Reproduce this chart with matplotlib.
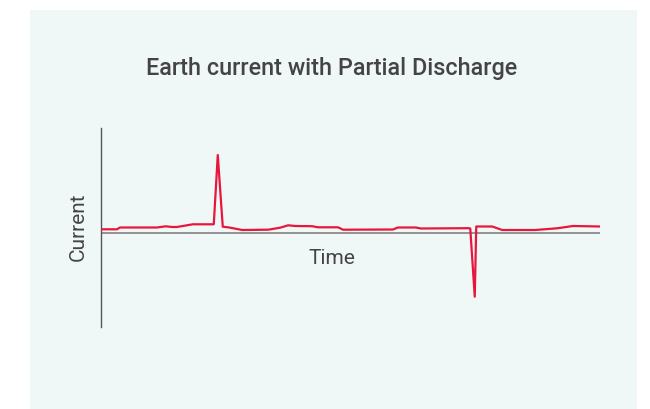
import matplotlib
matplotlib.use('Agg')
import matplotlib.pyplot as plt
from matplotlib.patches import Rectangle

# earth current trace, time 0..100, current in arbitrary units
time = [0, 3.2, 3.8, 11.2, 13.0, 14.2, 15.2, 17.0, 18.4, 22.6, 23.4, 24.4,
        25.7, 28.3, 33.5, 35.9, 37.5, 38.9, 42.3, 43.5, 47.5, 48.5, 58.5,
        59.5, 63.1, 64.1, 73.7, 74.0, 74.9, 75.2, 78.4, 80.4, 87.0, 91.4,
        94.6, 100]
current = [0.37, 0.37, 0.55, 0.55, 0.67, 0.6, 0.6, 0.75, 0.87, 0.87, 7.8, 0.63,
           0.55, 0.3, 0.33, 0.53, 0.77, 0.7, 0.68, 0.57, 0.57, 0.33, 0.35,
           0.55, 0.55, 0.45, 0.48, 0.45, -6.37, 0.65, 0.65, 0.3, 0.3, 0.47,
           0.7, 0.65]

title = 'Earth current with Partial Discharge'
xlabel = 'Time'
ylabel = 'Current'

plt.rcParams['font.family'] = ['Roboto', 'DejaVu Sans']

fig = plt.figure(figsize=(6.5, 4.09), dpi=100)
fig.patch.set_facecolor('white')
# light panel behind the chart
fig.patches.append(Rectangle((30/650, 0), (637-30)/650, 1-10/409,
                             transform=fig.transFigure, facecolor='#f0f8f7',
                             edgecolor='none', zorder=-5))

ax = fig.add_axes([101/650, 1-327/409, (600-101)/650, (327-128)/409])
ax.set_zorder(2)
ax.set_facecolor('none')
ax.plot(time, current, color='#e8163c', lw=1.6, zorder=3)
ax.axhline(0, color='#8a8a8a', lw=1.3, zorder=2)

ax.set_xlim(0, 100)
ax.set_ylim(-9.4, 10.5)
for s in ['top', 'right', 'bottom']:
    ax.spines[s].set_visible(False)
ax.spines['left'].set_color('#555555')
ax.spines['left'].set_linewidth(1)
ax.set_xticks([])
ax.set_yticks([])

fig.text(332/650, 1-68/409, title, ha='center', va='center',
         fontsize=16.8, fontweight='medium', color='#444444')
fig.text(332/650, 1-258/409, xlabel, ha='center', va='center',
         fontsize=15, color='#444444')
fig.text(78/650, 1-227/409, ylabel, ha='center', va='center',
         rotation=90, fontsize=15, color='#444444')

plt.savefig('out.png', dpi=100, facecolor=fig.get_facecolor())
